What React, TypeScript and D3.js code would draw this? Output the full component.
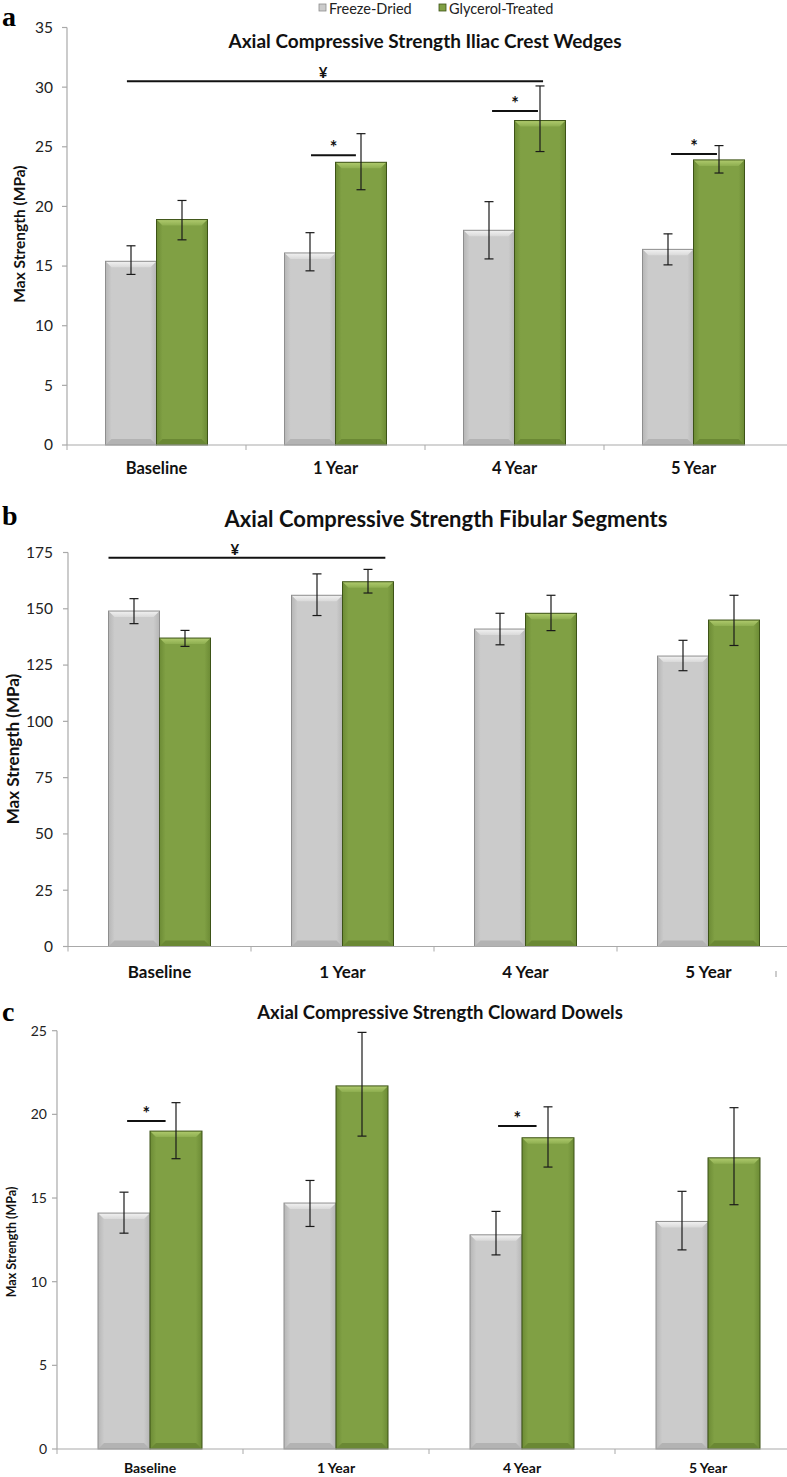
import { useEffect, useRef } from 'react';
import * as d3 from 'd3';

const categories = ['Baseline', '1 Year', '4 Year', '5 Year'];
const seriesNames = ['Freeze-Dried', 'Glycerol-Treated'];

// a: iliac crest wedges (MPa)
const iliacFreeze = [15.4, 16.1, 18.0, 16.4];
const iliacFreezeLow = [14.3, 14.6, 15.6, 15.1];
const iliacFreezeHigh = [16.7, 17.8, 20.4, 17.7];
const iliacGlycerol = [18.9, 23.7, 27.2, 23.9];
const iliacGlycerolLow = [17.2, 21.4, 24.6, 22.8];
const iliacGlycerolHigh = [20.5, 26.1, 30.1, 25.1];
const iliacTicks = [0, 5, 10, 15, 20, 25, 30, 35];
const iliacMarks = [
  { symbol: '¥', from: 'Baseline', fromAt: 0.21, to: '4 Year', toAt: 0.78, value: 30.5 },
  { symbol: '*', from: '1 Year', fromAt: 0.26, to: '1 Year', toAt: 0.7, value: 24.3 },
  { symbol: '*', from: '4 Year', fromAt: 0.28, to: '4 Year', toAt: 0.73, value: 28.0 },
  { symbol: '*', from: '5 Year', fromAt: 0.28, to: '5 Year', toAt: 0.73, value: 24.4 },
];

// b: fibular segments (MPa)
const fibularFreeze = [149, 156, 141, 129];
const fibularFreezeLow = [143.4, 147, 134, 122.5];
const fibularFreezeHigh = [154.5, 165.5, 148, 136];
const fibularGlycerol = [137, 162, 148, 145];
const fibularGlycerolLow = [133.3, 157, 140.3, 133.7];
const fibularGlycerolHigh = [140.4, 167.5, 156, 156];
const fibularTicks = [0, 25, 50, 75, 100, 125, 150, 175];
const fibularMarks = [
  { symbol: '¥', from: 'Baseline', fromAt: 0.0, to: '1 Year', toAt: 0.92, value: 172.7 },
];

// c: cloward dowels (MPa)
const clowardFreeze = [14.1, 14.7, 12.8, 13.6];
const clowardFreezeLow = [12.9, 13.3, 11.6, 11.9];
const clowardFreezeHigh = [15.35, 16.05, 14.2, 15.4];
const clowardGlycerol = [19.0, 21.7, 18.6, 17.4];
const clowardGlycerolLow = [17.35, 18.7, 16.85, 14.6];
const clowardGlycerolHigh = [20.7, 24.9, 20.45, 20.4];
const clowardTicks = [0, 5, 10, 15, 20, 25];
const clowardMarks = [
  { symbol: '*', from: 'Baseline', fromAt: 0.28, to: 'Baseline', toAt: 0.65, value: 19.6 },
  { symbol: '*', from: '4 Year', fromAt: 0.27, to: '4 Year', toAt: 0.64, value: 19.3 },
];

const W = 787;
const H = 1477;
const FONT = 'Lato, "Open Sans", sans-serif';

const panels = [
  {
    letter: 'a', letterY: 26,
    title: 'Axial Compressive Strength Iliac Crest Wedges', titleX: 425, titleY: 48, titleSize: 19,
    values: [iliacFreeze, iliacGlycerol],
    low: [iliacFreezeLow, iliacGlycerolLow],
    high: [iliacFreezeHigh, iliacGlycerolHigh],
    ticks: iliacTicks, marks: iliacMarks,
    xLeft: 67, xRight: 783, y0: 445, yTop: 27.5, barW: 51,
    tickSize: 15.5, tickGap: 14, catY: 474, catSize: 16.5, yLabelX: 20, yLabelY: 234, yLabelSize: 15.5,
  },
  {
    letter: 'b', letterY: 525,
    title: 'Axial Compressive Strength Fibular Segments', titleX: 446, titleY: 527, titleSize: 22,
    values: [fibularFreeze, fibularGlycerol],
    low: [fibularFreezeLow, fibularGlycerolLow],
    high: [fibularFreezeHigh, fibularGlycerolHigh],
    ticks: fibularTicks, marks: fibularMarks,
    xLeft: 68, xRight: 800, y0: 946.5, yTop: 552.5, barW: 51,
    tickSize: 15.5, tickGap: 15, catY: 978, catSize: 17, yLabelX: 13, yLabelY: 749, yLabelSize: 17,
  },
  {
    letter: 'c', letterY: 1021,
    title: 'Axial Compressive Strength Cloward Dowels', titleX: 440, titleY: 1019, titleSize: 18.5,
    values: [clowardFreeze, clowardGlycerol],
    low: [clowardFreezeLow, clowardGlycerolLow],
    high: [clowardFreezeHigh, clowardGlycerolHigh],
    ticks: clowardTicks, marks: clowardMarks,
    xLeft: 57, xRight: 801, y0: 1449, yTop: 1030.7, barW: 52,
    tickSize: 14, tickGap: 10, catY: 1473, catSize: 14, yLabelX: 12, yLabelY: 1242, yLabelSize: 12.5,
  },
];

// colours for the two series: body, top bevel, bottom bevel, outline
const palette = [
  { edge: '#b6b6b6', body: '#cbcbcb', top: '#f2f2f2', topLow: '#d9d9d9', bottom: '#b3b3b3', stroke: '#8e8e8e' },
  { edge: '#6c8b35', body: '#80a044', top: '#b0cb6e', topLow: '#8eae50', bottom: '#6a8834', stroke: '#3d5317' },
];

function drawPanel(root: d3.Selection<SVGSVGElement, unknown, null, undefined>, p: (typeof panels)[number]) {
  const g = root.append('g');
  const x = d3.scaleBand<string>().domain(categories).range([p.xLeft, p.xRight]);
  const y = d3.scaleLinear().domain([0, d3.max(p.ticks) as number]).range([p.y0, p.yTop]);
  const pairW = p.barW * 2;
  const sub = d3.scaleBand<string>().domain(seriesNames).range([0, pairW]);
  const pairLeft = (c: string) => (x(c) as number) + (x.bandwidth() - pairW) / 2;

  // y axis
  g.append('line')
    .attr('x1', p.xLeft).attr('x2', p.xLeft)
    .attr('y1', p.y0).attr('y2', p.yTop)
    .attr('stroke', '#a9a9a9').attr('stroke-width', 1.2);
  p.ticks.forEach((t) => {
    g.append('line')
      .attr('x1', p.xLeft - 5).attr('x2', p.xLeft)
      .attr('y1', y(t)).attr('y2', y(t))
      .attr('stroke', '#a9a9a9').attr('stroke-width', 1.2);
    g.append('text')
      .attr('x', p.xLeft - p.tickGap).attr('y', y(t))
      .attr('dy', '0.35em')
      .attr('text-anchor', 'end')
      .attr('font-family', FONT).attr('font-size', p.tickSize)
      .attr('fill', '#222')
      .text(t);
  });

  // bars
  seriesNames.forEach((s, si) => {
    const col = palette[si];
    categories.forEach((c, ci) => {
      const v = p.values[si][ci];
      const bx = pairLeft(c) + (sub(s) as number);
      const bw = sub.bandwidth();
      const by = y(v);
      const bh = p.y0 - by;
      const bev = 6;
      const bar = g.append('g');
      bar.append('rect')
        .attr('x', bx).attr('y', by).attr('width', bw).attr('height', bh)
        .attr('fill', `url(#body${si})`);
      bar.append('path')
        .attr('d', `M${bx},${by}H${bx + bw}L${bx + bw - bev},${by + bev}H${bx + bev}Z`)
        .attr('fill', `url(#top${si})`);
      bar.append('path')
        .attr('d', `M${bx},${p.y0}H${bx + bw}L${bx + bw - bev},${p.y0 - bev}H${bx + bev}Z`)
        .attr('fill', col.bottom);
      bar.append('rect')
        .attr('x', bx).attr('y', by).attr('width', bw).attr('height', bh)
        .attr('fill', 'none').attr('stroke', col.stroke).attr('stroke-width', 1);
    });
  });

  // x axis
  g.append('line')
    .attr('x1', p.xLeft).attr('x2', W)
    .attr('y1', p.y0).attr('y2', p.y0)
    .attr('stroke', '#a9a9a9').attr('stroke-width', 1.2);
  categories.forEach((c) => {
    const bx = x(c) as number;
    g.append('line')
      .attr('x1', bx).attr('x2', bx)
      .attr('y1', p.y0).attr('y2', p.y0 + 5)
      .attr('stroke', '#a9a9a9').attr('stroke-width', 1);
    g.append('text')
      .attr('x', bx + x.bandwidth() / 2).attr('y', p.catY)
      .attr('text-anchor', 'middle')
      .attr('font-family', FONT).attr('font-weight', 700).attr('font-size', p.catSize)
      .attr('fill', '#111')
      .text(c);
  });

  // error bars
  seriesNames.forEach((s, si) => {
    categories.forEach((c, ci) => {
      const cx = pairLeft(c) + (sub(s) as number) + sub.bandwidth() / 2;
      const lo = y(p.low[si][ci]);
      const hi = y(p.high[si][ci]);
      const e = g.append('g').attr('stroke', '#1a1a1a').attr('stroke-width', 1.2);
      e.append('line').attr('x1', cx).attr('x2', cx).attr('y1', lo).attr('y2', hi);
      e.append('line').attr('x1', cx - 4.5).attr('x2', cx + 4.5).attr('y1', lo).attr('y2', lo);
      e.append('line').attr('x1', cx - 4.5).attr('x2', cx + 4.5).attr('y1', hi).attr('y2', hi);
    });
  });

  // significance lines
  p.marks.forEach((m) => {
    const x1 = pairLeft(m.from) + pairW * m.fromAt;
    const x2 = pairLeft(m.to) + pairW * m.toAt;
    const yy = y(m.value);
    g.append('line')
      .attr('x1', x1).attr('x2', x2).attr('y1', yy).attr('y2', yy)
      .attr('stroke', '#111').attr('stroke-width', 2);
    const isYen = m.symbol === '¥';
    g.append('text')
      .attr('x', isYen ? (x1 + x2) / 2 - 12 : (x1 + x2) / 2)
      .attr('y', isYen ? yy - 3 : yy - 1)
      .attr('text-anchor', 'middle')
      .attr('font-family', FONT).attr('font-weight', 700)
      .attr('font-size', isYen ? 15 : 18)
      .attr('fill', '#111')
      .text(m.symbol);
  });

  // titles and labels
  g.append('text')
    .attr('x', p.titleX).attr('y', p.titleY)
    .attr('text-anchor', 'middle')
    .attr('font-family', FONT).attr('font-weight', 700).attr('font-size', p.titleSize)
    .attr('fill', '#111')
    .text(p.title);
  g.append('text')
    .attr('transform', `translate(${p.yLabelX},${p.yLabelY}) rotate(-90)`)
    .attr('text-anchor', 'middle').attr('dy', '0.35em')
    .attr('font-family', FONT).attr('font-weight', 700).attr('font-size', p.yLabelSize)
    .attr('fill', '#111')
    .text('Max Strength (MPa)');
  g.append('text')
    .attr('x', 2).attr('y', p.letterY)
    .attr('font-family', '"Liberation Serif", "DejaVu Serif", serif')
    .attr('font-weight', 700).attr('font-size', 28)
    .attr('fill', '#000')
    .text(p.letter);
}

const App = () => {
  const svgRef = useRef<SVGSVGElement>(null);

  useEffect(() => {
    if (!svgRef.current) return;
    const svg = d3.select(svgRef.current);
    svg.selectAll('*').remove();

    const defs = svg.append('defs');
    palette.forEach((col, i) => {
      const body = defs.append('linearGradient').attr('id', `body${i}`)
        .attr('x1', 0).attr('x2', 1).attr('y1', 0).attr('y2', 0);
      body.append('stop').attr('offset', '0%').attr('stop-color', col.edge);
      body.append('stop').attr('offset', '12%').attr('stop-color', col.body);
      body.append('stop').attr('offset', '88%').attr('stop-color', col.body);
      body.append('stop').attr('offset', '100%').attr('stop-color', col.edge);
      const top = defs.append('linearGradient').attr('id', `top${i}`)
        .attr('x1', 0).attr('x2', 0).attr('y1', 0).attr('y2', 1);
      top.append('stop').attr('offset', '0%').attr('stop-color', col.top);
      top.append('stop').attr('offset', '100%').attr('stop-color', col.topLow);
    });

    svg.append('rect').attr('width', W).attr('height', H).attr('fill', '#fff');

    // legend
    const legend = svg.append('g');
    const legendX = [319, 439];
    seriesNames.forEach((s, i) => {
      legend.append('rect')
        .attr('x', legendX[i]).attr('y', 4).attr('width', 7).attr('height', 7)
        .attr('fill', palette[i].body).attr('stroke', palette[i].stroke).attr('stroke-width', 0.8);
      legend.append('text')
        .attr('x', legendX[i] + 10).attr('y', 14)
        .attr('font-family', FONT).attr('font-size', 14.5)
        .attr('fill', '#222')
        .text(s);
    });

    panels.forEach((p) => drawPanel(svg, p));

    // stray tick mark at the far right of panel b
    svg.append('line')
      .attr('x1', 776).attr('x2', 776).attr('y1', 971).attr('y2', 977)
      .attr('stroke', '#999').attr('stroke-width', 1);
  }, []);

  return (
    <svg
      ref={svgRef}
      width={W}
      height={H}
      style={{ position: 'absolute', left: 0, top: 0 }}
    />
  );
};

export default App;
